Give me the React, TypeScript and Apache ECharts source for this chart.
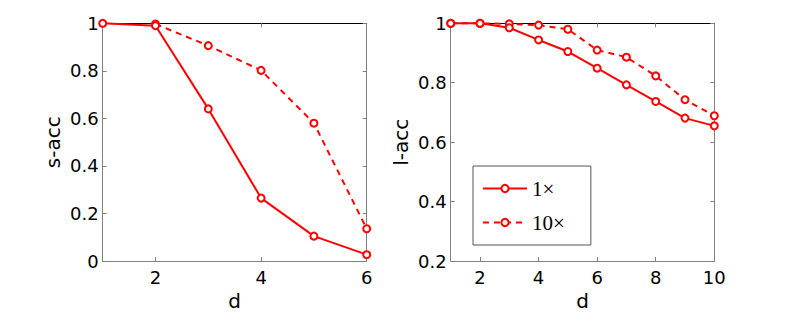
import React, { useEffect, useRef } from "react";
import * as echarts from "echarts";

const sX = [1, 2, 3, 4, 5, 6];
const sAcc1x = [1.0, 0.99, 0.64, 0.265, 0.105, 0.027];
const sX10 = [2, 3, 4, 5, 6];
const sAcc10x = [0.997, 0.906, 0.802, 0.58, 0.136];

const lX = [1, 2, 3, 4, 5, 6, 7, 8, 9, 10];
const lAcc1x = [1.0, 1.0, 0.985, 0.944, 0.905, 0.849, 0.793, 0.737, 0.681, 0.655];
const lAcc10x = [1.0, 1.0, 0.998, 0.994, 0.98, 0.91, 0.886, 0.823, 0.743, 0.689];

const sXTicks = [2, 4, 6];
const lXTicks = [2, 4, 6, 8, 10];

const seriesNames = ["1×", "10×"];

const pairs = (xs: number[], ys: number[]) => xs.map((x, i) => [x, ys[i]]);

export default function App() {
  const ref = useRef<HTMLDivElement>(null);
  useEffect(() => {
    if (!ref.current) return;
    const chart = echarts.init(ref.current, null, { renderer: "svg" });
    const font = "DejaVu Sans, sans-serif";
    const gray = "#808080";
    const tickStyle = { color: "#000", fontSize: 18, fontFamily: font };
    const nameStyle = { color: "#000", fontSize: 20, fontFamily: font };
    const grids = [
      { left: 102.7, top: 23.3, width: 264, height: 238.4 },
      { left: 450.7, top: 23.3, width: 263.6, height: 238.4 },
    ];
    const mkX = (gi: number, max: number, ticks: number[]) => [
      {
        type: "value",
        gridIndex: gi,
        min: 1,
        max,
        name: "d",
        nameLocation: "middle",
        nameGap: 28,
        nameTextStyle: nameStyle,
        axisLine: { show: true, onZero: false, lineStyle: { color: gray, width: 1 } },
        axisTick: { show: true, inside: true, length: 4, customValues: ticks, lineStyle: { color: gray } },
        axisLabel: { ...tickStyle, margin: 7, customValues: ticks },
        splitLine: { show: false },
      },
      {
        type: "value",
        gridIndex: gi,
        position: "top",
        min: 1,
        max,
        axisLine: { show: true, onZero: false, lineStyle: { color: "#000", width: 1 } },
        axisTick: { show: true, inside: true, length: 4, customValues: ticks, lineStyle: { color: gray } },
        axisLabel: { show: false },
        splitLine: { show: false },
      },
    ];
    const mkY = (gi: number, min: number, name: string, gap: number) => [
      {
        type: "value",
        gridIndex: gi,
        min,
        max: 1,
        interval: 0.2,
        name,
        nameLocation: "middle",
        nameGap: gap,
        nameTextStyle: nameStyle,
        axisLine: { show: true, onZero: false, lineStyle: { color: gray, width: 1 } },
        axisTick: { show: true, inside: true, length: 4, lineStyle: { color: gray } },
        axisLabel: { ...tickStyle, margin: 4, formatter: (v: number) => String(+v.toFixed(1)) },
        splitLine: { show: false },
      },
      {
        type: "value",
        gridIndex: gi,
        position: "right",
        min,
        max: 1,
        interval: 0.2,
        axisLine: { show: true, onZero: false, lineStyle: { color: gray, width: 1 } },
        axisTick: { show: true, inside: true, length: 4, lineStyle: { color: gray } },
        axisLabel: { show: false },
        splitLine: { show: false },
      },
    ];
    const mkSeries = (name: string, xi: number, yi: number, data: number[][], dashed: boolean) => ({
      type: "line",
      name,
      xAxisIndex: xi,
      yAxisIndex: yi,
      data,
      clip: false,
      symbol: "circle",
      symbolSize: 7,
      color: "#ff0000",
      lineStyle: { color: "#ff0000", width: 2, type: dashed ? [6, 5] : "solid" },
      itemStyle: { color: "#ffffff", borderColor: "#ff0000", borderWidth: 2 },
      z: dashed ? 2 : 3,
    });
    chart.setOption({
      animation: false,
      backgroundColor: "#fff",
      grid: grids,
      xAxis: [...mkX(0, 6, sXTicks), ...mkX(1, 10, lXTicks)],
      yAxis: [...mkY(0, 0, "s-acc", 40), ...mkY(1, 0.2, "l-acc", 40)],
      legend: {
        data: seriesNames,
        orient: "vertical",
        left: 473,
        top: 166,
        padding: [12, 26, 12, 9],
        itemWidth: 44,
        itemHeight: 9,
        itemGap: 13,
        backgroundColor: "#fff",
        borderColor: "#555",
        borderWidth: 1,
        borderRadius: 0,
        selectedMode: false,
        textStyle: { color: "#000", fontSize: 21, fontFamily: "Liberation Serif, serif", lineHeight: 21 },
      },
      series: [
        mkSeries(seriesNames[0], 2, 2, pairs(lX, lAcc1x), false),
        mkSeries(seriesNames[1], 2, 2, pairs(lX, lAcc10x), true),
        mkSeries(seriesNames[0], 0, 0, pairs(sX, sAcc1x), false),
        mkSeries(seriesNames[1], 0, 0, pairs(sX10, sAcc10x), true),
      ],
    });
    return () => chart.dispose();
  }, []);
  return (
    <div
      ref={ref}
      style={{ position: "fixed", left: 0, top: 0, width: 789, height: 316, background: "#fff" }}
    />
  );
}
